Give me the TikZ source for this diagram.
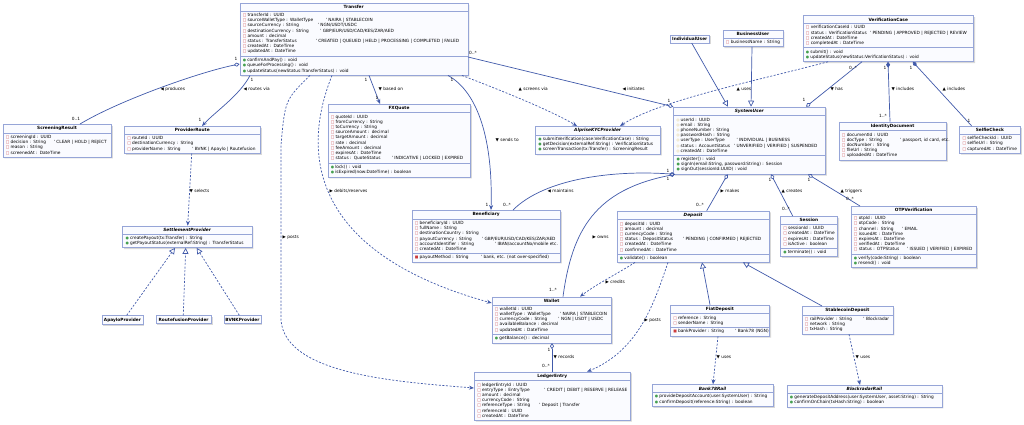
\documentclass[tikz,border=0pt]{standalone}
\usepackage{fontspec}
\setmainfont{DejaVu Sans}
\usetikzlibrary{arrows, arrows.meta, shadows}
\usetikzlibrary{shapes.multipart}
\definecolor{umlborder}{RGB}{150,165,215}
\definecolor{umlfill}{RGB}{250,251,255}
\definecolor{umlline}{RGB}{65,90,170}
\definecolor{privred}{RGB}{205,60,60}
\definecolor{pubgreen}{RGB}{70,160,80}
\definecolor{protyellow}{RGB}{210,170,40}
\newcommand{\umlfont}{\fontsize{4.3}{5.2}\selectfont}
\newcommand{\umlicon}[2]{{\fontsize{3.8}{3.8}\selectfont\color{#1}#2}\hspace{1.2pt}}
% one member per line, never broken
\newcommand{\fpriv}[1]{\mbox{\umlicon{privred}{□}#1}}
\newcommand{\mpriv}[1]{\mbox{\umlicon{privred}{■}#1}}
\newcommand{\fprot}[1]{\mbox{\umlicon{protyellow}{◇}#1}}
\newcommand{\mpub}[1]{\mbox{\umlicon{pubgreen}{●}#1}}
\newcommand{\withnote}[3]{\mbox{\makebox[#1][l]{#2}\textquotesingle\ #3}}
\newcommand{\ctitle}[1]{\makebox[\hsize]{\textbf{#1}}}
\newcommand{\atitle}[1]{\makebox[\hsize]{\textbf{\textit{#1}}}}
\tikzstyle{umlclass} = [rectangle split, rectangle split parts=3, draw=umlborder, fill=umlfill, line width=0.5pt, inner xsep=3pt, inner ysep=2pt, anchor=north west, align=left, font=\umlfont, drop shadow={shadow xshift=1.5pt, shadow yshift=-1.5pt, fill=black!30}]
\tikzstyle{umlname} = [umlclass, rectangle split parts=1, inner xsep=1pt]
\tikzstyle{assoc} = [draw=umlline, line width=0.7pt]
\tikzstyle{navig} = [assoc, ->, >={Stealth[length=5pt, width=4pt]}]
\tikzstyle{dep} = [navig, dash pattern=on 2pt off 1.6pt]
\tikzstyle{aggr} = [assoc, {Diamond[open, length=6pt, width=4pt]}-]
\tikzstyle{compo} = [assoc, {Diamond[length=6pt, width=4pt]}-]
\tikzstyle{inherit} = [assoc, -{Triangle[open, length=6pt, width=6pt]}]
\tikzstyle{realize} = [inherit, dash pattern=on 2pt off 1.6pt]
\tikzstyle{mult} = [font=\umlfont, inner sep=0.5pt]
\tikzstyle{rel} = [font=\umlfont, inner sep=0.5pt, anchor=west]

\begin{document}
\begin{tikzpicture}[x=1pt, y=-1pt]
\path[fill=white] (0,0) rectangle (1024,424);
\useasboundingbox (0,0) rectangle (1024,424);

% transfer side
\node[umlclass, text width=222pt] (transfer) at (239.5,3) {\ctitle{Transfer}
\nodepart{two}
\fpriv{transferId : UUID}\\
\withnote{83pt}{\fpriv{sourceWalletType : WalletType}}{NAIRA | STABLECOIN}\\
\withnote{75pt}{\fpriv{sourceCurrency : String}}{NGN/USDT/USDC}\\
\withnote{77.5pt}{\fpriv{destinationCurrency : String}}{GBP/EUR/USD/CAD/KES/ZAR/AED}\\
\fpriv{amount : decimal}\\
\withnote{73pt}{\fpriv{status : TransferStatus}}{CREATED | QUEUED | HELD | PROCESSING | COMPLETED | FAILED}\\
\fpriv{createdAt : DateTime}\\
\fpriv{updatedAt : DateTime}
\nodepart{three}
\mpub{confirmAndPay() : void}\\
\mpub{queueForProcessing() : void}\\
\mpub{updateStatus(newStatus:TransferStatus) : void}};

\node[umlclass, rectangle split parts=2, text width=102.5pt] (screening) at (2.5,124) {\ctitle{ScreeningResult}
\nodepart{two}
\fpriv{screeningId : UUID}\\
\withnote{48pt}{\fpriv{decision : String}}{CLEAR | HOLD | REJECT}\\
\fpriv{reason : String}\\
\fpriv{screenedAt : DateTime}};

\node[umlclass, rectangle split parts=2, text width=130pt] (route) at (124,126) {\ctitle{ProviderRoute}
\nodepart{two}
\fpriv{routeId : UUID}\\
\fpriv{destinationCurrency : String}\\
\withnote{65pt}{\fpriv{providerName : String}}{BVNK | Apaylo | Routefusion}};

\node[umlclass, text width=136.5pt] (fxquote) at (327.5,104) {\ctitle{FXQuote}
\nodepart{two}
\fpriv{quoteId : UUID}\\
\fpriv{fromCurrency : String}\\
\fpriv{toCurrency : String}\\
\fpriv{sourceAmount : decimal}\\
\fpriv{targetAmount : decimal}\\
\fpriv{rate : decimal}\\
\fpriv{feeAmount : decimal}\\
\fpriv{expiresAt : DateTime}\\
\withnote{61pt}{\fpriv{status : QuoteStatus}}{INDICATIVE | LOCKED | EXPIRED}
\nodepart{three}
\mpub{lock() : void}\\
\mpub{isExpired(now:DateTime) : boolean}};

\node[umlclass, rectangle split parts=2, text width=119pt] (kyc) at (535,126) {\atitle{AlpriseKYCProvider}
\nodepart{two}
\mpub{submitVerification(case:VerificationCase) : String}\\
\mpub{getDecision(externalRef:String) : VerificationStatus}\\
\mpub{screenTransaction(tx:Transfer) : ScreeningResult}};

% users and verification
\node[umlname, text width=37pt] (indiv) at (670,34.7) {\ctitle{IndividualUser}};

\node[umlclass, rectangle split parts=2, text width=54pt] (business) at (722.7,30) {\ctitle{BusinessUser}
\nodepart{two}
\fpriv{businessName : String}};

\node[umlclass, text width=145.7pt] (sysuser) at (673.3,106.7) {\atitle{SystemUser}
\nodepart{two}
\fprot{userId : UUID}\\
\fprot{email : String}\\
\fprot{phoneNumber : String}\\
\fprot{passwordHash : String}\\
\withnote{60pt}{\fprot{userType : UserType}}{INDIVIDUAL | BUSINESS}\\
\withnote{57.5pt}{\fprot{status : AccountStatus}}{UNVERIFIED | VERIFIED | SUSPENDED}\\
\fprot{createdAt : DateTime}
\nodepart{three}
\mpub{register() : void}\\
\mpub{signIn(email:String, password:String) : Session}\\
\mpub{signOut(sessionId:UUID) : void}};

\node[umlclass, text width=164.6pt] (vcase) at (802.7,15.3) {\ctitle{VerificationCase}
\nodepart{two}
\fpriv{verificationCaseId : UUID}\\
\withnote{64pt}{\fpriv{status : VerificationStatus}}{PENDING | APPROVED | REJECTED | REVIEW}\\
\fpriv{createdAt : DateTime}\\
\fpriv{completedAt : DateTime}
\nodepart{three}
\mpub{submit() : void}\\
\mpub{updateStatus(newStatus:VerificationStatus) : void}};

\node[umlclass, rectangle split parts=2, text width=101.3pt] (iddoc) at (838.7,121.7) {\ctitle{IdentityDocument}
\nodepart{two}
\fpriv{documentId : UUID}\\
\withnote{58pt}{\fpriv{docType : String}}{passport, id card, etc.}\\
\fpriv{docNumber : String}\\
\fpriv{fileUrl : String}\\
\fpriv{uploadedAt : DateTime}};

\node[umlclass, rectangle split parts=2, text width=54.7pt] (selfie) at (959.3,126) {\ctitle{SelfieCheck}
\nodepart{two}
\fpriv{selfieCheckId : UUID}\\
\fpriv{selfieUrl : String}\\
\fpriv{capturedAt : DateTime}};

% settlement providers
\node[umlclass, rectangle split parts=2, text width=123.4pt] (settle) at (122.3,225.7) {\atitle{SettlementProvider}
\nodepart{two}
\mpub{createPayout(tx:Transfer) : String}\\
\mpub{getPayoutStatus(externalRef:String) : TransferStatus}};

\node[umlname, text width=39pt] (apaylo) at (101.7,315.3) {\ctitle{ApayloProvider}};
\node[umlname, text width=53.3pt] (routefusion) at (155.7,315.3) {\ctitle{RoutefusionProvider}};
\node[umlname, text width=35pt] (bvnk) at (223.7,315.3) {\ctitle{BVNKProvider}};

% money side
\node[umlclass, text width=142.3pt] (benef) at (411.7,210) {\ctitle{Beneficiary}
\nodepart{two}
\fpriv{beneficiaryId : UUID}\\
\fpriv{fullName : String}\\
\fpriv{destinationCountry : String}\\
\withnote{67pt}{\fpriv{payoutCurrency : String}}{GBP/EUR/USD/CAD/KES/ZAR/AED}\\
\withnote{80pt}{\fpriv{accountIdentifier : String}}{IBAN/accountNo/mobile etc.}\\
\fpriv{createdAt : DateTime}
\nodepart{three}
\withnote{66pt}{\mpriv{payoutMethod : String}}{bank, etc. (not over-specified)}};

\node[umlclass, text width=146.3pt] (deposit) at (616.7,210.7) {\atitle{Deposit}
\nodepart{two}
\fpriv{depositId : UUID}\\
\fpriv{amount : decimal}\\
\fpriv{currencyCode : String}\\
\withnote{63pt}{\fpriv{status : DepositStatus}}{PENDING | CONFIRMED | REJECTED}\\
\fpriv{createdAt : DateTime}\\
\fpriv{confirmedAt : DateTime}
\nodepart{three}
\mpub{validate() : boolean}};

\node[umlclass, text width=51.3pt] (session) at (780,216) {\ctitle{Session}
\nodepart{two}
\fpriv{sessionId : UUID}\\
\fpriv{createdAt : DateTime}\\
\fpriv{expiresAt : DateTime}\\
\fpriv{isActive : boolean}
\nodepart{three}
\mpub{terminate() : void}};

\node[umlclass, text width=119.3pt] (otp) at (850.7,206) {\ctitle{OTPVerification}
\nodepart{two}
\fpriv{otpId : UUID}\\
\fpriv{otpCode : String}\\
\withnote{48pt}{\fpriv{channel : String}}{EMAIL}\\
\fpriv{issuedAt : DateTime}\\
\fpriv{expiresAt : DateTime}\\
\fpriv{verifiedAt : DateTime}\\
\withnote{53pt}{\fpriv{status : OTPStatus}}{ISSUED | VERIFIED | EXPIRED}
\nodepart{three}
\mpub{verify(code:String) : boolean}\\
\mpub{resend() : void}};

\node[umlclass, text width=113.3pt] (wallet) at (491.7,296.7) {\ctitle{Wallet}
\nodepart{two}
\fpriv{walletId : UUID}\\
\withnote{65pt}{\fpriv{walletType : WalletType}}{NAIRA | STABLECOIN}\\
\withnote{63.5pt}{\fpriv{currencyCode : String}}{NGN | USDT | USDC}\\
\fpriv{availableBalance : decimal}\\
\fpriv{updatedAt : DateTime}
\nodepart{three}
\mpub{getBalance() : decimal}};

\node[umlclass, rectangle split parts=2, text width=150pt] (ledger) at (474,371.7) {\ctitle{LedgerEntry}
\nodepart{two}
\fpriv{ledgerEntryId : UUID}\\
\withnote{67pt}{\fpriv{entryType : EntryType}}{CREDIT | DEBIT | RESERVE | RELEASE}\\
\fpriv{amount : decimal}\\
\fpriv{currencyCode : String}\\
\withnote{62pt}{\fpriv{referenceType : String}}{Deposit | Transfer}\\
\fpriv{referenceId : UUID}\\
\fpriv{createdAt : DateTime}};

\node[umlclass, text width=93.3pt] (fiat) at (670,304.7) {\ctitle{FiatDeposit}
\nodepart{two}
\fpriv{reference : String}\\
\fpriv{senderName : String}
\nodepart{three}
\withnote{62pt}{\mpriv{bankProvider : String}}{Bank78 (NGN)}};

\node[umlclass, rectangle split parts=2, text width=85pt] (stable) at (801.7,306) {\ctitle{StablecoinDeposit}
\nodepart{two}
\withnote{58.5pt}{\fpriv{railProvider : String}}{Blockradar}\\
\fpriv{network : String}\\
\fpriv{txHash : String}};

\node[umlclass, rectangle split parts=2, text width=115.3pt] (bank78) at (651.7,384.3) {\atitle{Bank78Rail}
\nodepart{two}
\mpub{provideDepositAccount(user:SystemUser) : String}\\
\mpub{confirmDeposit(reference:String) : boolean}};

\node[umlclass, rectangle split parts=2, text width=149pt] (blockradar) at (786.7,385) {\atitle{BlockradarRail}
\nodepart{two}
\mpub{generateDepositAddress(user:SystemUser, asset:String) : String}\\
\mpub{confirmOnChain(txHash:String) : boolean}};

% relations of Transfer
\draw[aggr] (transfer.west |- 0,64) .. controls (200,72) and (120,100) .. (screening.north -| 80,0);
\node[mult] (mprod1) at (236,59) {1};
\node[mult] (mprod2) at (76,119) {0..1};
\node[rel] (lprod) at (160,89) {◀ produces};

\draw[navig] (transfer.south -| 250,0) .. controls (240,95) and (215,112) .. (route.north -| 202,0);
\node[mult] (mroute1) at (252,80) {1};
\node[mult] (mroute2) at (200,120) {1};
\node[rel] (lroute) at (243,89) {◀ routes via};

\draw[navig] (transfer.south -| 369,0) -- (fxquote.north -| 380,0);
\node[mult] (mquote1) at (366,80) {1};
\node[mult] (mquote2) at (377,98) {1};
\node[rel] (lquote) at (378,89) {▼ based on};

\draw[dep] (transfer.south -| 462,0) .. controls (500,90) and (550,110) .. (kyc.north -| 577,0);
\node[rel] (lscreen) at (518,89) {▲ screens via};

\draw[aggr] (sysuser.north west) -- (transfer.east |- 0,57);
\node[mult] (minit1) at (473,53) {0..*};
\node[mult] (minit2) at (669,101) {1};
\node[rel] (linit) at (622,89) {◀ initiates};

\draw[navig] (transfer.south -| 448,0) .. controls (478,92) and (493,140) .. (benef.north -| 491,0);
\node[mult] (msend1) at (452,80) {1};
\node[mult] (msend2) at (487,205) {1};
\node[rel] (lsend) at (495,140) {▼ sends to};

\draw[dep] (transfer.south -| 332,0) .. controls (298,160) and (318,255) .. (wallet.west |- 0,303);
\node[rel] (ldebit) at (329,191) {▶ debits/reserves};

\draw[dep] (transfer.south -| 310,0) .. controls (285,100) .. (281,145) -- (281,320) .. controls (285,375) and (400,382) .. (ledger.west |- 0,388);
\node[rel] (lpost) at (282,237) {▶ posts};

% providers
\draw[dep] (route.south -| 191.7,0) -- (settle.north -| 187.7,0);
\node[rel] (lselect) at (189,191) {▼ selects};
\draw[realize] (apaylo.north -| 126.7,0) -- (settle.south -| 175,0);
\draw[realize] (routefusion.north -| 183.3,0) -- (settle.south -| 185.7,0);
\draw[realize] (bvnk.north -| 239.3,0) -- (settle.south -| 196.7,0);

% users
\draw[inherit] (indiv.south -| 691.7,0) -- (sysuser.north -| 728,0);
\draw[inherit] (business.south -| 752,0) -- (sysuser.north -| 751,0);

\draw[dep] (vcase.south -| 828,0) .. controls (760,80) and (660,100) .. (kyc.north -| 620,0);
\node[rel] (luses) at (736,89) {▲ uses};

\draw[aggr] (sysuser.north -| 806,0) -- (vcase.south -| 862,0);
\node[mult] (mhas1) at (804,100) {1};
\node[mult] (mhas2) at (853,68) {0..*};
\node[rel] (lhas) at (830,89) {▼ has};

\draw[compo] (vcase.south -| 888,0) -- (iddoc.north -| 890,0);
\node[mult] (mdoc1) at (885,68) {1};
\node[mult] (mdoc2) at (883,116) {1..*};
\node[rel] (ldoc) at (891,89) {▼ includes};

\draw[compo] (vcase.south -| 912.7,0) -- (selfie.north -| 971.7,0);
\node[mult] (mselfie1) at (911,68) {1};
\node[mult] (mselfie2) at (969,121) {1};
\node[rel] (lselfie) at (942,89) {▲ includes};

\draw[aggr] (sysuser.south -| 675,0) .. controls (615,170) and (545,178) .. (benef.north -| 513,0);
\node[mult] (mmaint1) at (668,171) {1};
\node[mult] (mmaint2) at (507,205) {0..*};
\node[rel] (lmaint) at (547,191) {◀ maintains};

\draw[aggr] (sysuser.south -| 675,0) .. controls (595,190) and (572,230) .. (wallet.north -| 563,0);
\node[mult] (mown1) at (668,179) {1};
\node[mult] (mown2) at (553,290) {1..*};
\node[rel] (lown) at (592,237) {▶ owns};

\draw[aggr] (sysuser.south -| 727.7,0) -- (deposit.north -| 706.7,0);
\node[mult] (mmake2) at (700,205) {0..*};
\node[rel] (lmake) at (720,191) {▶ makes};

\draw[aggr] (sysuser.south -| 771,0) -- (session.north -| 792.7,0);
\node[mult] (mcreate1) at (770,180) {1};
\node[mult] (mcreate2) at (786,209) {0..*};
\node[rel] (lcreate) at (781,191) {▲ creates};

\draw[aggr] (sysuser.south -| 808,0) -- (otp.north -| 860,0);
\node[mult] (mtrig1) at (809,180) {1};
\node[mult] (mtrig2) at (850,199) {0..*};
\node[rel] (ltrig) at (840,191) {▲ triggers};

% deposits
\draw[dep] (deposit.south -| 635,0) .. controls (615,275) and (595,285) .. (wallet.north -| 580,0);
\node[rel] (lcredit) at (605,282) {▶ credits};

\draw[dep] (deposit.south -| 668,0) .. controls (655,300) and (640,350) .. (ledger.north -| 587,0);
\node[rel] (lpost2) at (644,320) {▶ posts};

\draw[inherit] (fiat.north -| 710,0) -- (deposit.south -| 702,0);
\draw[inherit] (stable.north -| 822,0) -- (deposit.south -| 743,0);

\draw[aggr] (wallet.south -| 552,0) -- (ledger.north -| 552,0);
\node[mult] (mrec1) at (549,350) {1};
\node[mult] (mrec2) at (546,366) {0..*};
\node[rel] (lrec) at (553,357) {▼ records};

\draw[dep] (fiat.south -| 718,0) -- (bank78.north -| 713,0);
\node[rel] (lbank) at (716,357) {▼ uses};

\draw[dep] (stable.south -| 849,0) -- (blockradar.north -| 860,0);
\node[rel] (lchain) at (855,357) {▼ uses};

\end{tikzpicture}
\end{document}
